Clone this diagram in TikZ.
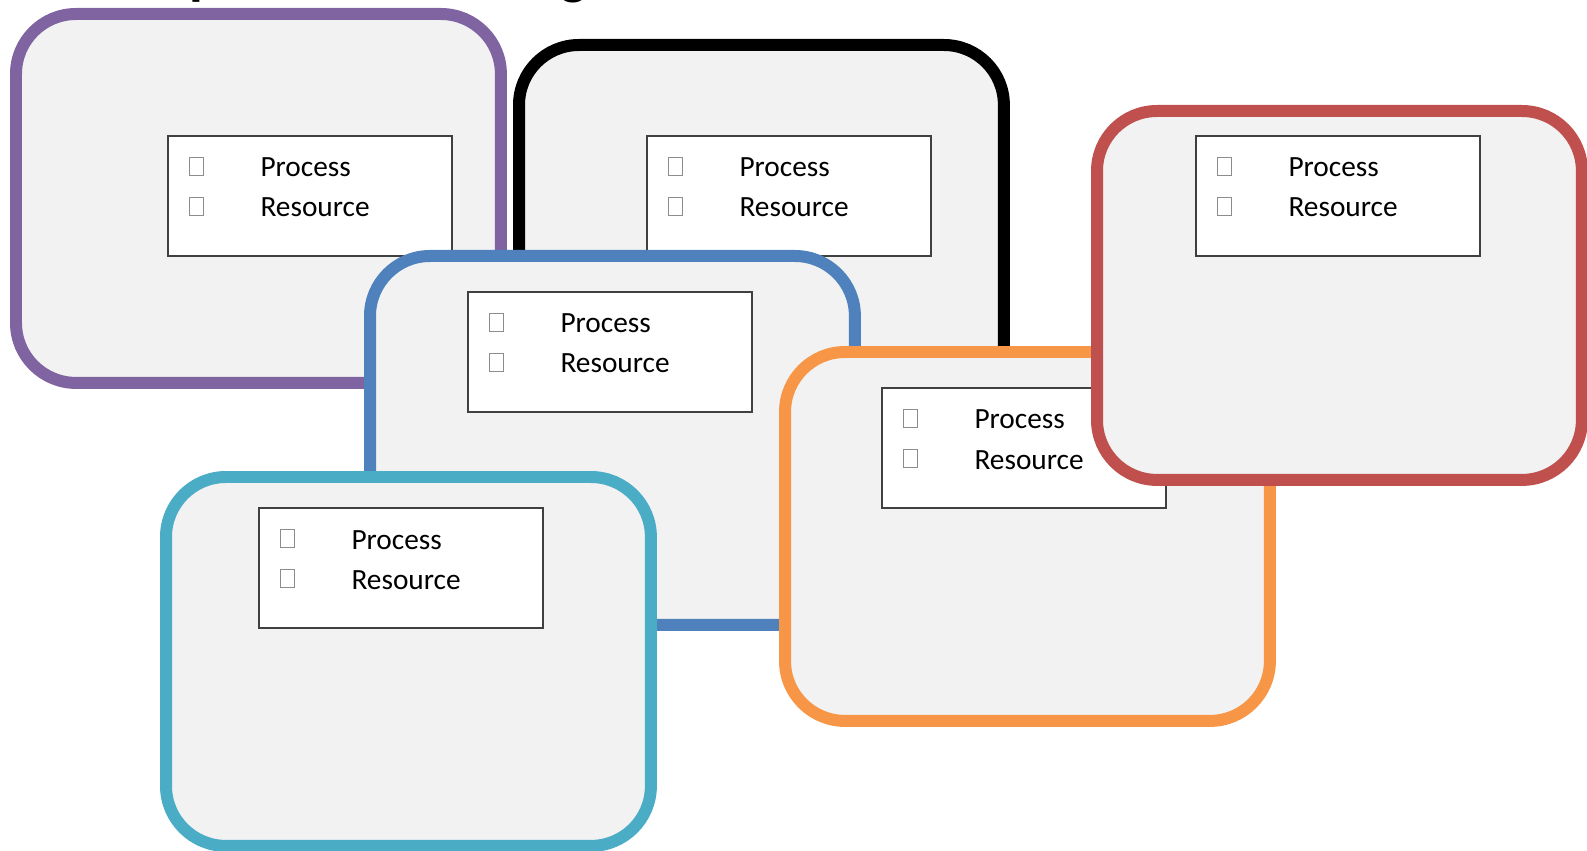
\documentclass[tikz,border=0pt]{standalone}
\usepackage{fontspec}
\setmainfont{Carlito}
\usetikzlibrary{calc}
\definecolor{cpurple}{HTML}{8064A2}
\definecolor{cblue}{HTML}{4F81BD}
\definecolor{ccyan}{HTML}{4BACC6}
\definecolor{corange}{HTML}{F79646}
\definecolor{cred}{HTML}{C0504D}
\definecolor{cfill}{HTML}{F2F2F2}
\definecolor{cframe}{HTML}{404040}
\definecolor{ccheck}{HTML}{8C8C8C}
\tikzset{
  bigbox/.style={draw=#1, fill=cfill, line width=0.24cm, rounded corners=1.2cm,
    minimum width=9.7cm, minimum height=7.38cm, inner sep=0pt, outer sep=0pt,
    anchor=north west},
  tb/.style={draw=cframe, fill=white, line width=0.8pt, minimum width=5.68cm,
    minimum height=2.4cm, inner sep=0pt, outer sep=0pt, anchor=north west},
  cb/.style={draw=ccheck, fill=white, line width=0.5pt, minimum width=0.29cm,
    minimum height=0.35cm, inner sep=0pt, outer sep=0pt, anchor=north west},
  lbl/.style={anchor=base west, inner sep=0pt, outer sep=0pt,
    font=\fontsize{16.7}{20}\selectfont},
  frag/.style={anchor=base west, inner sep=0pt, outer sep=0pt,
    font=\fontsize{32}{36}\selectfont\bfseries}
}
\newcommand\tbox[3]{%
  \node[tb] (#1) at (#2,#3) {};
  \node[cb] (#1c1) at ($(#1.north west)+(21,21.5)$) {};
  \node[cb] (#1c2) at ($(#1.north west)+(21,61.5)$) {};
  \node[lbl] (#1p) at ($(#1.north west)+(92.5,41)$) {Process};
  \node[lbl] (#1r) at ($(#1.north west)+(92.5,81)$) {Resource};
}
\begin{document}
\begin{tikzpicture}[x=0.02cm, y=-0.02cm]
\useasboundingbox (0,0) rectangle (1587,851);
% title fragments cut off at the top
\node[frag] (fragp) at (189,-6) {p};
\node[frag] (fragg) at (560,-6) {g};
% purple
\node[bigbox=cpurple] (purple) at (16,14) {};
\tbox{tpurple}{168}{136}
% black
\node[bigbox=black] (black) at (519,45) {};
\tbox{tblack}{647}{136}
% blue
\node[bigbox=cblue] (blue) at (370,256) {};
\tbox{tblue}{468}{292}
% cyan
\node[bigbox=ccyan] (cyan) at (166,477) {};
\tbox{tcyan}{259}{508}
% orange
\node[bigbox=corange] (orange) at (785,352) {};
\tbox{torange}{882}{388}
% red
\node[bigbox=cred] (red) at (1097,111) {};
\tbox{tred}{1196}{136}
\end{tikzpicture}
\end{document}
